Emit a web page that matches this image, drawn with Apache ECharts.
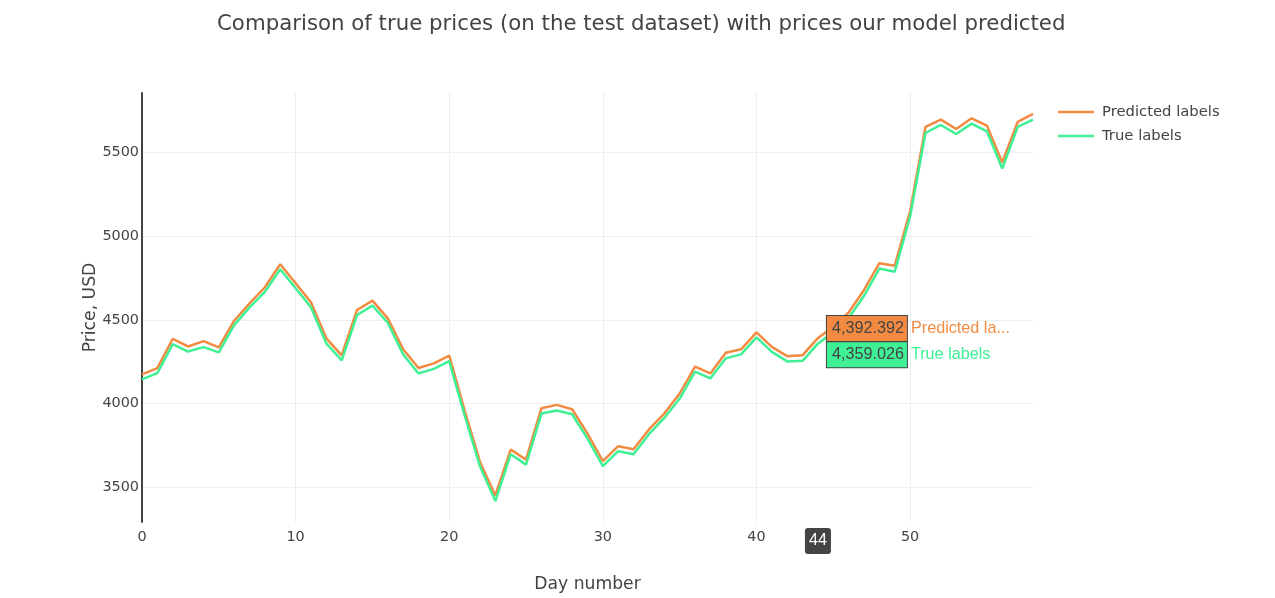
<!DOCTYPE html>
<html>
<head>
<meta charset="utf-8">
<script src="https://cdn.jsdelivr.net/npm/echarts@6/dist/echarts.min.js"></script>
<style>html,body{margin:0;padding:0;background:#fff;}#c{width:1275px;height:598px;}</style>
</head>
<body>
<div id="c"></div>
<script>
// ---- data ----
const days = [0,1,2,3,4,5,6,7,8,9,10,11,12,13,14,15,16,17,18,19,20,21,22,23,24,25,26,27,28,29,30,31,32,33,34,35,36,37,38,39,40,41,42,43,44,45,46,47,48,49,50,51,52,53,54,55,56,57,58];
const predicted = [4175,4213,4388,4342,4374,4337,4496,4600,4696,4834,4720,4606,4390,4289,4560,4616,4510,4325,4213,4241,4287,3960,3652,3452,3726,3666,3973,3993,3967,3821,3657,3746,3728,3846,3941,4061,4222,4181,4304,4325,4426,4340,4284,4290,4392.392,4460,4545,4680,4840,4825,5149,5654,5698,5642,5706,5662,5442,5684,5732];
const trueVals = [4145,4183,4356,4312,4338,4307,4470,4576,4669,4804,4690,4576,4360,4259,4530,4586,4484,4295,4181,4208,4255,3930,3626,3418,3698,3636,3941,3959,3937,3791,3627,3716,3698,3818,3915,4031,4192,4151,4271,4295,4396,4310,4253,4256,4359.026,4428,4512,4645,4808,4789,5119,5618,5666,5612,5674,5628,5406,5654,5698];
const seriesNames = ['Predicted labels','True labels'];
const hoverDay = 44;
const titleText = 'Comparison of true prices (on the test dataset) with prices our model predicted';
const xTitle = 'Day number';
const yTitle = 'Price, USD';

const COLORS = ['#f28b41','#3ff095'];
const TXT = '#444';
const FONT = '"DejaVu Sans", Verdana, sans-serif';
const HFONT = '"Liberation Sans", Arial, sans-serif';

function trunc(n){ return n.length > 15 ? n.slice(0,12) + '...' : n; }
function fmt(v){ return v.toLocaleString('en-US',{minimumFractionDigits:3, maximumFractionDigits:3}); }

function hoverMark(vals, idx, offY){
  const i = days.indexOf(hoverDay);
  return {
    silent:true, symbol:'circle', symbolSize:0, animation:false,
    data:[{coord:[hoverDay, vals[i]]}],
    label:{
      show:true, position:'right', distance:9, offset:[0,offY],
      formatter:'{box|' + fmt(vals[i]) + '}{nm|' + trunc(seriesNames[idx]) + '}',
      rich:{
        box:{backgroundColor:COLORS[idx], borderColor:TXT, borderWidth:1, color:TXT,
             fontFamily:HFONT, fontSize:16.2, padding:[4,3,5,5], lineHeight:18},
        nm:{color:COLORS[idx], fontFamily:HFONT, fontSize:16.2, lineHeight:18, padding:[0,0,0,4]}
      }
    }
  };
}

const chart = echarts.init(document.getElementById('c'), null, {renderer:'canvas'});
chart.setOption({
  animation:false,
  backgroundColor:'#fff',
  title:{text:titleText, left:212, top:9,
    textStyle:{fontFamily:FONT, fontSize:21.3, fontWeight:'normal', color:TXT}},
  legend:{orient:'vertical', left:1058, top:103, padding:0, icon:'rect',
    itemWidth:36, itemHeight:2.5, itemGap:6,
    data:seriesNames,
    textStyle:{fontFamily:FONT, fontSize:14.8, lineHeight:18, color:TXT, padding:[0,0,0,3]}},
  grid:{left:142, right:242, top:93, bottom:76, containLabel:false},
  xAxis:{type:'value', min:0, max:58, interval:10,
    name:xTitle, nameLocation:'middle', nameGap:54, nameMoveOverlap:false,
    nameTextStyle:{fontFamily:FONT, fontSize:17.2, color:TXT},
    axisLine:{show:false}, axisTick:{show:false},
    axisLabel:{fontFamily:FONT, fontSize:14.4, color:TXT, margin:8, showMaxLabel:false},
    splitLine:{show:true, showMaxLine:false, lineStyle:{color:'#eee', width:1}},
    axisPointer:{show:true, type:'none', value:hoverDay, status:'show', snap:false,
      label:{show:true, backgroundColor:TXT, color:'#fff', fontFamily:HFONT, fontSize:16.2,
        padding:[5,4,5,4], margin:6, formatter:(p)=>String(Math.round(p.value))}}
  },
  yAxis:{type:'value', min:3293, max:5857, splitNumber:5,
    name:yTitle, nameLocation:'middle', nameGap:43, nameMoveOverlap:false,
    nameTextStyle:{fontFamily:FONT, fontSize:17.2, color:TXT},
    axisLine:{show:true, lineStyle:{color:TXT, width:2}}, axisTick:{show:false},
    axisLabel:{fontFamily:FONT, fontSize:14.4, color:TXT, margin:3, showMinLabel:false, showMaxLabel:false,
      formatter:(v)=>String(v)},
    splitLine:{show:true, showMinLine:false, showMaxLine:false, lineStyle:{color:'#eee', width:1}}
  },
  series:[
    {name:seriesNames[0], type:'line', data:days.map((d,i)=>[d,predicted[i]]), symbol:'none',
     lineStyle:{color:COLORS[0], width:2.5}, itemStyle:{color:COLORS[0]}, z:2,
     markPoint:hoverMark(predicted,0,-9.5)},
    {name:seriesNames[1], type:'line', data:days.map((d,i)=>[d,trueVals[i]]), symbol:'none',
     lineStyle:{color:COLORS[1], width:2.5}, itemStyle:{color:COLORS[1]}, z:3,
     markPoint:hoverMark(trueVals,1,11)}
  ]
});
</script>
</body>
</html>
